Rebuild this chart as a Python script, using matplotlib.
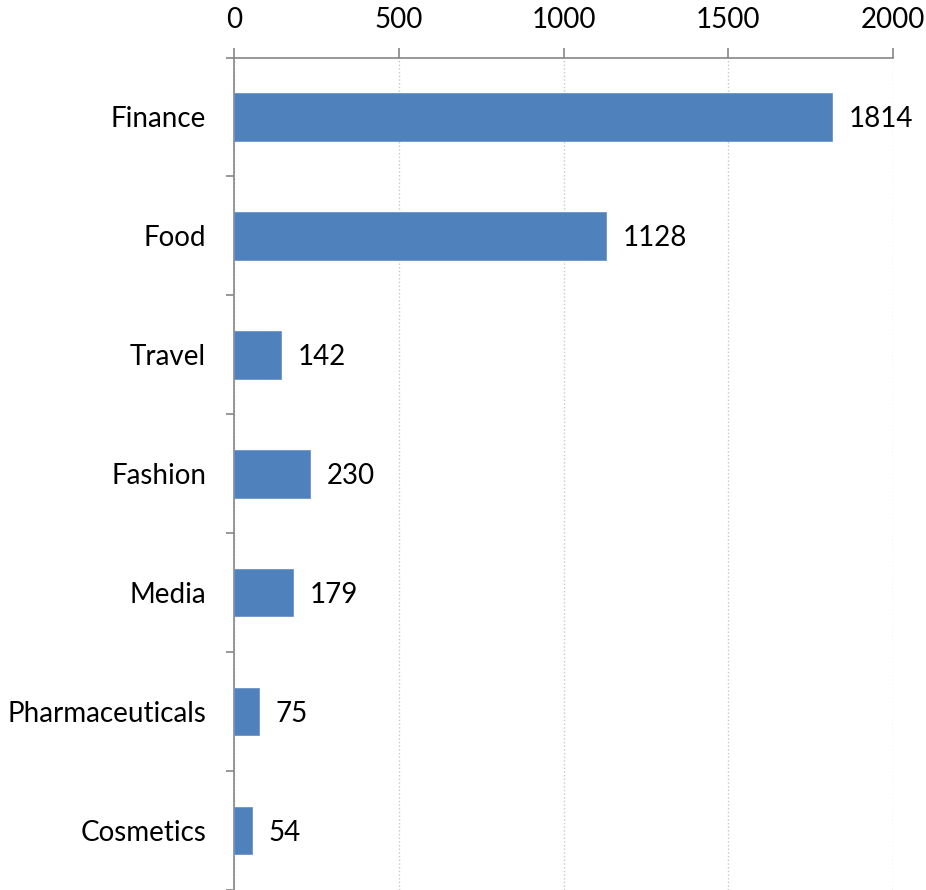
import matplotlib.pyplot as plt
import numpy as np

categorias = ['Finance', 'Food', 'Travel', 'Fashion', 'Media', 'Pharmaceuticals', 'Cosmetics']
valores = [1814, 1128, 142, 230, 179, 75, 54]
marcas_x = [0, 500, 1000, 1500, 2000]

plt.rcParams['font.family'] = ['Lato', 'DejaVu Sans']
cor_barra = '#4F81BD'
cor_eixo = '#868686'

fig = plt.figure(figsize=(9.26, 8.9), dpi=100)
ax = fig.add_axes([234 / 926, 0, (893 - 234) / 926, 832.5 / 890])

pos = np.arange(len(categorias))
ax.barh(pos, valores, height=0.4, color=cor_barra, edgecolor='#6d95c8', linewidth=0.6, zorder=3)

# rótulos de valor à direita de cada barra
for p, v in zip(pos, valores):
    ax.annotate(str(v), (v, p), xytext=(12, 0), textcoords='offset points',
                va='center_baseline', ha='left', fontsize=20, color='black')

ax.set_xlim(0, 2000)
ax.set_ylim(len(categorias) - 0.5, -0.5)
ax.xaxis.tick_top()
ax.set_xticks(marcas_x)
ax.set_xticklabels([str(m) for m in marcas_x])

# nomes das categorias centrados, marcas nas fronteiras
ax.set_yticks(pos)
ax.set_yticklabels(categorias, va='center_baseline')
ax.set_yticks(np.arange(-0.5, len(categorias)), minor=True)
ax.tick_params(axis='y', which='major', length=0, pad=20, labelsize=20)
ax.tick_params(axis='y', which='minor', length=6, width=1.2, color=cor_eixo)
ax.tick_params(axis='x', which='major', length=7, width=1.2, color=cor_eixo, pad=11, labelsize=20)

ax.grid(axis='x', linestyle=':', color='#c8c8c8', linewidth=1.0, zorder=0)
for lado in ['right', 'bottom']:
    ax.spines[lado].set_visible(False)
for lado in ['left', 'top']:
    ax.spines[lado].set_color(cor_eixo)
    ax.spines[lado].set_linewidth(1.2)

fig.savefig('out.png', dpi=100)
